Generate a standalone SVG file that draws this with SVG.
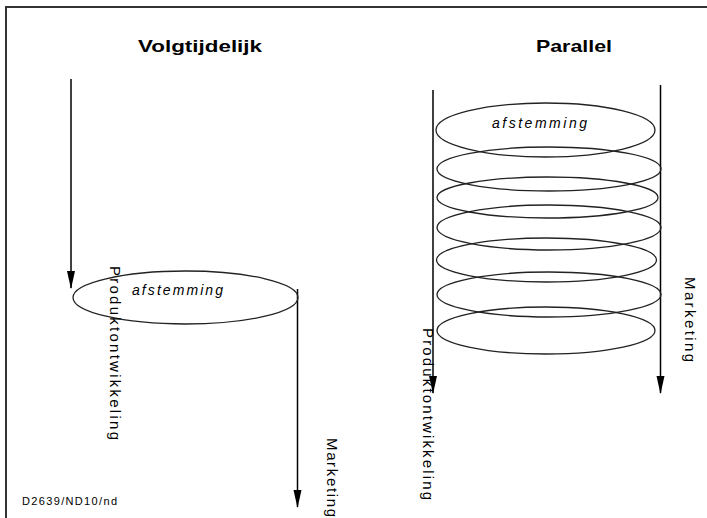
<svg xmlns="http://www.w3.org/2000/svg" width="707" height="518" viewBox="0 0 707 518">
<style>
.frame{stroke:#333;stroke-width:2;fill:none}
.line{stroke:#000;stroke-width:1.5;fill:none;marker-end:url(#arr)}
.ell{stroke:#222;stroke-width:1.3;fill:none}
.title{font-family:"Liberation Sans",Arial,sans-serif;font-weight:bold;font-size:17px;fill:#000}
.lbl{font-family:"Liberation Sans",Arial,sans-serif;font-size:15px;fill:#000}
.it{font-family:"Liberation Sans",Arial,sans-serif;font-style:italic;font-size:14px;fill:#000}
.small{font-family:"Liberation Sans",Arial,sans-serif;font-size:11px;fill:#000}
</style>
<defs>
<marker id="arr" markerUnits="userSpaceOnUse" markerWidth="18" markerHeight="10" refX="17" refY="5" orient="auto" viewBox="0 0 18 10">
<path d="M0,1 L18,5 L0,9 Z" fill="#000"/>
</marker>
</defs>
<rect width="707" height="518" fill="#fff"/>
<path class="frame" d="M6,518 V7 H707"/>
<text class="title" x="200" y="52" text-anchor="middle" textLength="124" lengthAdjust="spacingAndGlyphs">Volgtijdelijk</text>
<text class="title" x="574" y="52" text-anchor="middle" textLength="76" lengthAdjust="spacingAndGlyphs">Parallel</text>
<g id="connectors">
<line class="line" x1="71" y1="79" x2="71" y2="288"/>
<line class="line" x1="297.5" y1="289" x2="297.5" y2="507"/>
<line class="line" x1="433" y1="90" x2="433" y2="393"/>
<line class="line" x1="660.5" y1="85" x2="660.5" y2="393"/>
</g>
<g id="seq-afstemming">
<ellipse class="ell" cx="185.5" cy="297.5" rx="112.5" ry="26.5"/>
<text class="it" x="132" y="295" textLength="91" lengthAdjust="spacing">afstemming</text>
</g>
<g id="par-afstemming">
<ellipse class="ell" cx="545.5" cy="130" rx="109.5" ry="27"/>
<text class="it" x="492" y="128" textLength="95" lengthAdjust="spacing">afstemming</text>
</g>
<g id="par-ellipse-2"><ellipse class="ell" cx="549" cy="169" rx="112" ry="22"/></g>
<g id="par-ellipse-3"><ellipse class="ell" cx="547.5" cy="197.5" rx="110.5" ry="20.5"/></g>
<g id="par-ellipse-4"><ellipse class="ell" cx="549" cy="227.5" rx="112" ry="22.5"/></g>
<g id="par-ellipse-5"><ellipse class="ell" cx="546.5" cy="260" rx="110" ry="22"/></g>
<g id="par-ellipse-6"><ellipse class="ell" cx="549" cy="294.5" rx="112" ry="22.5"/></g>
<g id="par-ellipse-7"><ellipse class="ell" cx="546" cy="330.5" rx="109" ry="23.5"/></g>
<g id="labels">
<text class="lbl" transform="translate(110,266) rotate(90)" textLength="174" lengthAdjust="spacing">Produktontwikkeling</text>
<text class="lbl" transform="translate(327,438) rotate(90)" textLength="79" lengthAdjust="spacing">Marketing</text>
<text class="lbl" transform="translate(423,328) rotate(90)" textLength="172" lengthAdjust="spacing">Produktontwikkeling</text>
<text class="lbl" transform="translate(685,277) rotate(90)" textLength="85" lengthAdjust="spacing">Marketing</text>
<text class="small" x="22" y="505" textLength="95" lengthAdjust="spacing">D2639/ND10/nd</text>
</g>
</svg>
